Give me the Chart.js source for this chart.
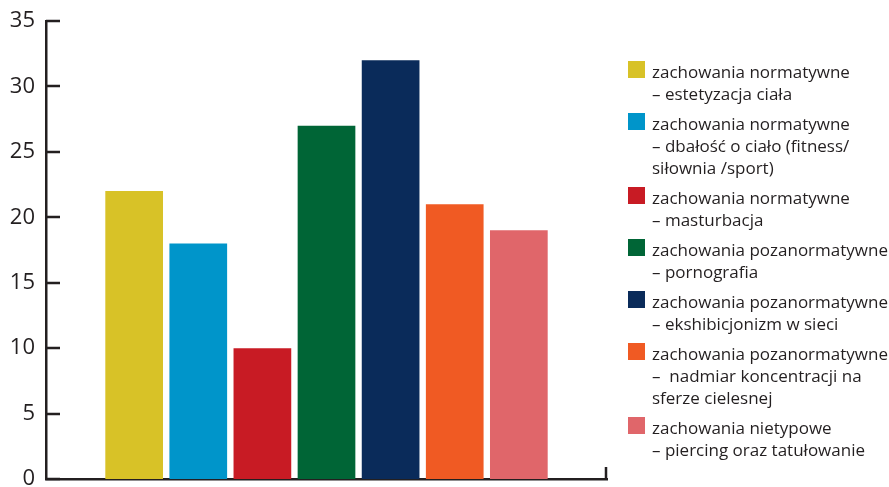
<!DOCTYPE html>
<html>
<head>
<meta charset="utf-8">
<script src="https://cdn.jsdelivr.net/npm/chart.js@4.4.1/dist/chart.umd.min.js"></script>
<style>
  html, body { margin: 0; padding: 0; background: #fff; }
  #wrap { width: 889px; height: 487px; }
</style>
</head>
<body>
<div id="wrap"><canvas id="myChart" width="889" height="487"></canvas></div>
<script>
// categories (one legend entry per bar, each split into lines)
const categories = [
  ['zachowania normatywne', '– estetyzacja ciała'],
  ['zachowania normatywne', '– dbałość o ciało (fitness/', 'siłownia /sport)'],
  ['zachowania normatywne', '– masturbacja'],
  ['zachowania pozanormatywne', '– pornografia'],
  ['zachowania pozanormatywne', '– ekshibicjonizm w sieci'],
  ['zachowania pozanormatywne', '–  nadmiar koncentracji na', 'sferze cielesnej'],
  ['zachowania nietypowe', '– piercing oraz tatułowanie']
];
const values = [22, 18, 10, 27, 32, 21, 19];
const colors = ['#d8c227', '#0095ca', '#c81b24', '#006536', '#0a2b5a', '#f05a23', '#e0666a'];
const yTicks = [0, 5, 10, 15, 20, 25, 30, 35];

const ink = '#231f20';
const fontFamily = '"Open Sans", sans-serif';

// inward tick marks on the y axis + small end tick on the x axis
const axisMarks = {
  id: 'axisMarks',
  afterDraw(chart) {
    const ctx = chart.ctx;
    const y = chart.scales.y;
    const area = chart.chartArea;
    ctx.save();
    ctx.strokeStyle = ink;
    ctx.lineWidth = 2.5;
    ctx.beginPath();
    yTicks.forEach(v => {
      const py = Math.round(y.getPixelForValue(v));
      ctx.moveTo(area.left, py);
      ctx.lineTo(area.left + 14, py);
    });
    ctx.moveTo(area.right - 1, area.bottom);
    ctx.lineTo(area.right - 1, area.bottom - 12);
    ctx.stroke();
    ctx.restore();
  }
};

// legend on the right with multi-line labels
const sideLegend = {
  id: 'sideLegend',
  afterDraw(chart) {
    const ctx = chart.ctx;
    const lineH = 22, gap = 8, box = 17;
    let y = 73;
    ctx.save();
    ctx.font = '17px ' + fontFamily;
    ctx.textBaseline = 'middle';
    ctx.textAlign = 'left';
    chart.data.datasets.forEach(ds => {
      ctx.fillStyle = ds.backgroundColor;
      ctx.fillRect(628, y - 12, box, box);
      ctx.fillStyle = ink;
      ds.label.forEach((line, i) => {
        ctx.fillText(line, 652, y + i * lineH);
      });
      y += ds.label.length * lineH + gap;
    });
    ctx.restore();
  }
};

const datasets = categories.map((lbl, i) => ({
  label: lbl,
  data: [values[i]],
  backgroundColor: colors[i],
  borderWidth: 0,
  categoryPercentage: 0.8,
  barPercentage: 0.9
}));

new Chart(document.getElementById('myChart'), {
  type: 'bar',
  data: { labels: [''], datasets: datasets },
  options: {
    responsive: false,
    animation: false,
    layout: { padding: { top: 21, right: 282, bottom: 0, left: 0 } },
    plugins: {
      legend: { display: false },
      title: { display: false },
      tooltip: { enabled: false }
    },
    scales: {
      x: {
        grid: { display: false },
        border: { display: true, color: ink, width: 2.5 },
        ticks: { display: false },
        afterFit: s => { s.height = 8; s.paddingLeft = 0; s.paddingRight = 0; }
      },
      y: {
        min: 0,
        max: 35,
        grid: { display: false, drawTicks: false },
        border: { display: true, color: ink, width: 2.5 },
        ticks: {
          stepSize: 5,
          padding: 11,
          color: ink,
          font: { family: fontFamily, size: 22 }
        },
        afterFit: s => { s.width = 46; s.paddingTop = 0; s.paddingBottom = 0; }
      }
    }
  },
  plugins: [axisMarks, sideLegend]
});
</script>
</body>
</html>
